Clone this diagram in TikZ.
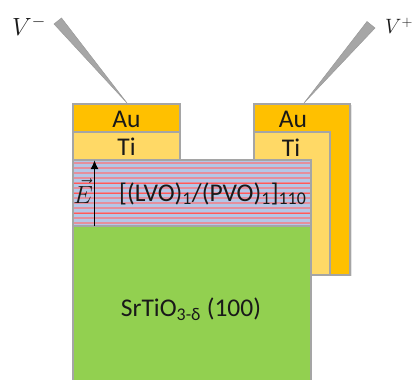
\documentclass[tikz,border=0pt]{standalone}
\usepackage{fontspec}
\usetikzlibrary{arrows.meta}
\setmainfont{Carlito}
\definecolor{edge}{HTML}{A5A5A5}
\definecolor{augold}{HTML}{FFC000}
\definecolor{tiyel}{HTML}{FFD966}
\definecolor{subgreen}{HTML}{92D050}
\definecolor{slblue}{HTML}{B4C7E7}
\definecolor{slred}{HTML}{E58F9C}
\definecolor{tipgray}{HTML}{A6A6A6}
\tikzset{
  layer/.style={draw=edge,line width=1.2pt,inner sep=0pt},
  lbl/.style={font=\fontsize{25.5}{28}\selectfont,text=black!90,inner sep=0pt},
  mathlbl/.style={font=\fontsize{24}{28}\selectfont,text=black!90,inner sep=0pt},
  tipshape/.style={fill=tipgray,draw=gray!80,line width=0.5pt},
}
\begin{document}
\begin{tikzpicture}[x=1pt,y=-1pt]
\useasboundingbox (0,0) rectangle (413,380);
\begin{scope}
\path[clip] (0,0) rectangle (413,380);
% right contact
\fill[black!10] (351,105) rectangle (352,276);
\draw[layer,fill=augold] (254,104) rectangle (350,275);
\draw[layer,fill=tiyel] (254,132) rectangle (330,275);
% left contact
\draw[layer,fill=augold] (73,104) rectangle (180,132);
\draw[layer,fill=tiyel] (73,132) rectangle (180,160);
% superlattice
\fill[slblue] (73,160) rectangle (311,226);
\foreach \y in {163,168,...,223}{\fill[slred] (73,\y-0.9) rectangle (311,\y+0.9);}
\foreach \y in {183,193,213}{\fill[red!65] (73,\y-0.5) rectangle (311,\y+0.5);}
\draw[layer] (73,160) rectangle (311,226);
% substrate
\draw[layer,fill=subgreen] (73,226) rectangle (311,385);
% labels
\node[lbl] (au1) at (126.5,119) {Au};
\node[lbl] (ti1) at (126.5,147) {Ti};
\node[lbl] (au2) at (293,119) {Au};
\node[lbl] (ti2) at (291,148) {Ti};
\node[lbl,anchor=base west] (sl) at (119,201) {[(LVO)\textsubscript{1}/(PVO)\textsubscript{1}]\textsubscript{110}};
\node[lbl] (sto) at (191,309) {SrTiO\textsubscript{3-δ} (100)};
\node[mathlbl] (vm) at (29,26) {$V^-$};
\node[mathlbl,anchor=west,font=\fontsize{22}{26}\selectfont] (vp) at (385,26) {$V^+$};
\node[mathlbl] (ef) at (83,191) {$\vec{E}$};
% field arrow
\coordinate (ea) at (94.5,226);
\coordinate (eb) at (94.5,160);
\draw[-{Latex[length=9pt,width=8pt]},line width=1.7pt,black] (ea) -- (eb);
% probes
\coordinate (tipl) at (127,103);
\coordinate (tipr) at (304,103);
\draw[tipshape] (54,24) -- (61.5,18) -- (tipl) -- cycle;
\draw[tipshape] (367,21.5) -- (375,28) -- (tipr) -- cycle;
\end{scope}
\end{tikzpicture}
\end{document}
